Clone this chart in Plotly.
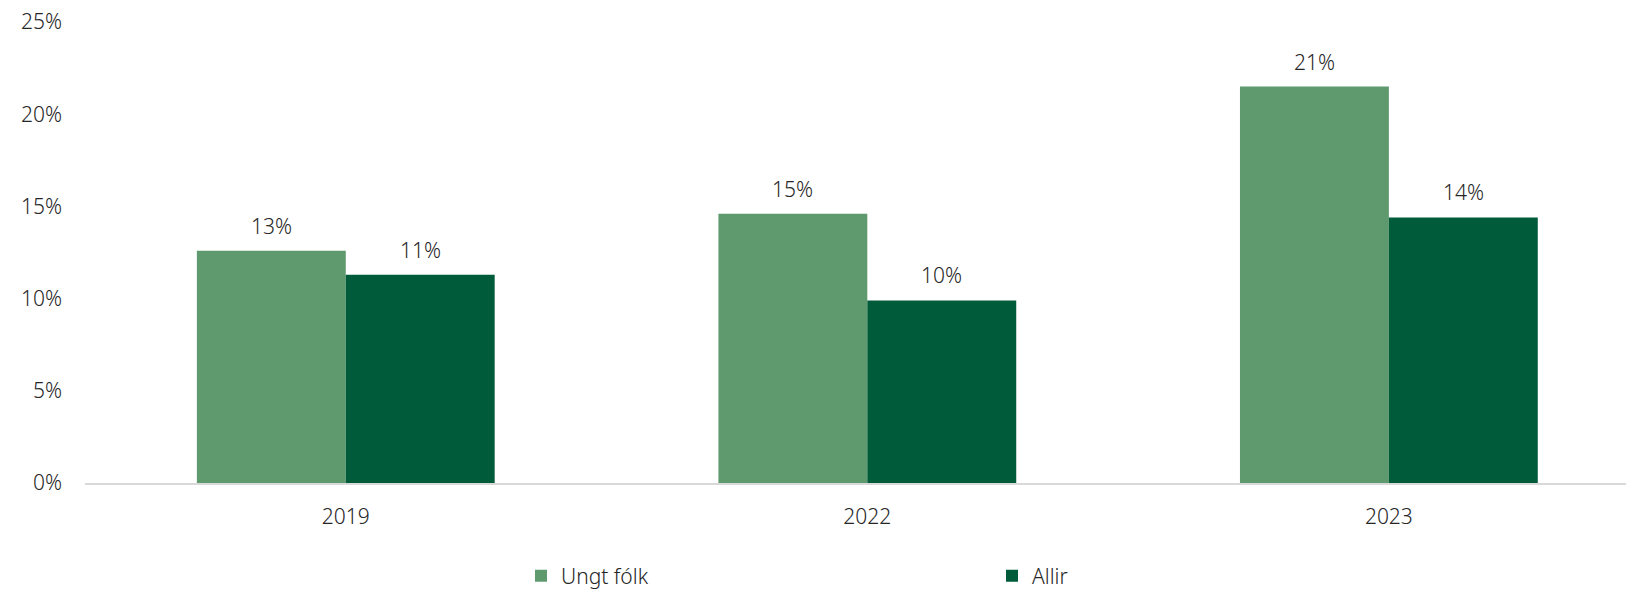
import plotly.graph_objects as go

years = ["2019", "2022", "2023"]
ungt_folk = [0.126, 0.146, 0.215]
allir = [0.113, 0.099, 0.144]
labels_ungt = ["13%", "15%", "21%"]
labels_allir = ["11%", "10%", "14%"]
y_ticks = [0, 0.05, 0.10, 0.15, 0.20, 0.25]
y_tick_labels = ["0%", "5%", "10%", "15%", "20%", "25%"]

C_LIGHT = "#5f9a6e"
C_DARK = "#005b3a"
TXT = "#262626"
FONT = "Noto Sans"
FS = 21
FW = 300
BARGAP = 0.429

def fnt():
    return dict(size=FS, color=TXT, family=FONT, weight=FW)

fig = go.Figure()
fig.add_trace(go.Bar(x=list(range(len(years))), y=ungt_folk, name="Ungt fólk",
                     marker_color=C_LIGHT, marker_line_width=0, legend="legend"))
fig.add_trace(go.Bar(x=list(range(len(years))), y=allir, name="Allir",
                     marker_color=C_DARK, marker_line_width=0, legend="legend2"))

half = (1 - BARGAP) / 4  # half bar width in axis units
for i, (v, t) in enumerate(zip(ungt_folk, labels_ungt)):
    fig.add_annotation(x=i - half, y=v, xref="x", yref="y", text=t, showarrow=False,
                       yshift=25, font=fnt())
for i, (v, t) in enumerate(zip(allir, labels_allir)):
    fig.add_annotation(x=i + half, y=v, xref="x", yref="y", text=t, showarrow=False,
                       yshift=25, font=fnt())

fig.update_layout(
    width=1626, height=584,
    margin=dict(l=77, r=0, t=14, b=109),
    paper_bgcolor="white", plot_bgcolor="white",
    barmode="group", bargap=BARGAP, bargroupgap=0,
    font=fnt(),
    legend=dict(orientation="h", xref="container", yref="container",
                x=513/1626, y=16/584, xanchor="left", yanchor="middle", font=fnt()),
    legend2=dict(orientation="h", xref="container", yref="container",
                 x=984/1626, y=16/584, xanchor="left", yanchor="middle", font=fnt()),
    showlegend=True,
)
fig.update_xaxes(range=[-0.5, 2.47], tickvals=list(range(len(years))), ticktext=years,
                 showgrid=False, zeroline=False,
                 showline=True, linecolor="#d9d9d9", linewidth=2,
                 ticks="", ticklabelstandoff=14, tickfont=fnt())
fig.update_yaxes(range=[0, 0.25], tickvals=y_ticks, ticktext=y_tick_labels,
                 showgrid=False, zeroline=False, showline=False, ticks="",
                 ticklabelstandoff=22, ticklabeloverflow="allow", tickfont=fnt())

fig.write_html("out.html")
